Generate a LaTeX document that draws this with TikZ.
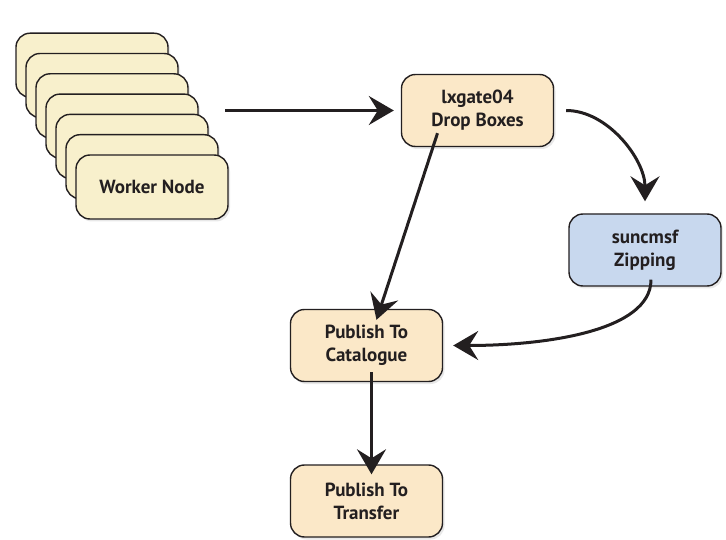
\documentclass[tikz,border=0pt]{standalone}
\usepackage{fontspec}
\setmainfont{PT Sans}
\usetikzlibrary{arrows.meta,shadows}

\definecolor{workfill}{RGB}{248,240,204}
\definecolor{tanfill}{RGB}{251,232,200}
\definecolor{zipfill}{RGB}{200,216,238}
\definecolor{inkline}{RGB}{35,31,32}

\tikzset{
    box/.style={draw=inkline, line width=1.4pt, rounded corners=14pt,
        minimum width=152pt, minimum height=72pt, align=center,
        text=inkline, font=\bfseries\fontsize{19}{23}\selectfont,
        drop shadow={opacity=0.18, shadow xshift=2pt, shadow yshift=-2.5pt}},
    flow/.style={draw=inkline, line width=3pt,
        -{Stealth[length=25pt, width=29pt, inset=9pt]}}
}

\begin{document}
\begin{tikzpicture}[x=1pt, y=-1pt]
        \useasboundingbox (0,0) rectangle (726,540);
        % stack of worker nodes, back to front
        \foreach \i in {6,...,1}
            \node [box, fill=workfill, minimum height=64pt] (wk\i) at (152-10*\i, 187-20.3*\i) {};
        \node [box, fill=workfill, minimum height=64pt] (worker) at (152, 187) {Worker Node};
        \node [box, fill=tanfill] (drop) at (477.5, 110.5) {lxgate04\\Drop Boxes};
        \node [box, fill=zipfill] (zip) at (645, 250) {suncmsf\\Zipping};
        \node [box, fill=tanfill] (cat) at (366.5, 345.5) {Publish To\\Catalogue};
        \node [box, fill=tanfill] (xfer) at (366.5, 501) {Publish To\\Transfer};
        \coordinate (wout) at (225, 110.5);
        % connectors
        \draw [flow, shorten >=7pt] (wout) -- (drop.west);
        \draw [flow, shorten <=12pt, shorten >=12pt] (drop.east) to [out=0, in=90] (zip.north);
        \draw [flow] ([xshift=-40pt, yshift=14pt]drop.south) -- ([xshift=10pt, yshift=-11pt]cat.north);
        \draw [flow] ([xshift=6pt, yshift=7pt]zip.south) .. controls +(0,52) and +(90,0) .. ([xshift=10pt]cat.east);
        \draw [flow] ([xshift=5pt, yshift=10pt]cat.south) -- ([xshift=5pt, yshift=-10pt]xfer.north);
    \end{tikzpicture}
\end{document}
